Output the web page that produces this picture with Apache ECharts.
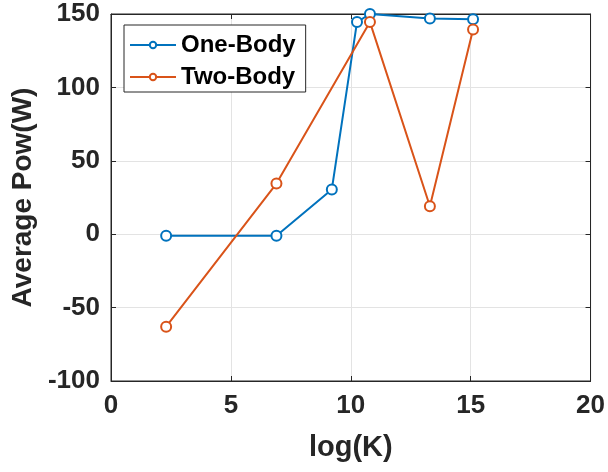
<!DOCTYPE html>
<html>
<head>
<meta charset="utf-8">
<script src="https://cdn.jsdelivr.net/npm/echarts@6/dist/echarts.min.js"></script>
<style>
html, body { margin: 0; padding: 0; background: #fff; }
#chart { width: 608px; height: 472px; }
</style>
</head>
<body>
<div id="chart"></div>
<script>
// 数据
var oneX = [2.3, 6.9, 9.21, 10.26, 10.8, 13.3, 15.1];
var oneY = [-1, -1, 30.5, 144.5, 150, 147, 146.5];
var twoX = [2.3, 6.9, 10.8, 13.3, 15.1];
var twoY = [-63, 34.5, 144.5, 19, 139.5];
var seriesNames = ['One-Body', 'Two-Body'];

function pairs(xs, ys) {
	var out = [];
	for (var i = 0; i < xs.length; i++) {
		out.push([xs[i], ys[i]]);
	}
	return out;
}

var font = '"Liberation Sans", Arial, sans-serif';
var dark = '#262626';

var myChart = echarts.init(document.getElementById('chart'));
var option = {
	animation: false,
	grid: {
		left: 111,
		top: 14,
		right: 16,
		bottom: 91,
		show: true,
		borderColor: dark,
		borderWidth: 1
	},
	legend: {
		orient: 'vertical',
		left: 124,
		top: 25,
		data: seriesNames,
		backgroundColor: '#fff',
		borderColor: dark,
		borderWidth: 1,
		borderRadius: 0,
		padding: [6, 10, 1, 5],
		itemGap: 4,
		itemWidth: 46,
		itemHeight: 8,
		textStyle: {
			fontFamily: font,
			fontWeight: 'bold',
			fontSize: 24,
			lineHeight: 28,
			color: '#000'
		}
	},
	xAxis: [
		{
			type: 'value',
			min: 0,
			max: 20,
			interval: 5,
			name: 'log(K)',
			nameLocation: 'middle',
			nameGap: 52,
			nameTextStyle: {
				fontFamily: font,
				fontWeight: 'bold',
				fontSize: 29,
				color: dark
			},
			axisLine: { show: true, onZero: false, lineStyle: { color: dark } },
			axisTick: { inside: true, length: 5, lineStyle: { color: dark } },
			axisLabel: {
				margin: 12,
				fontFamily: font,
				fontWeight: 'bold',
				fontSize: 26,
				color: dark
			},
			splitLine: { show: true, lineStyle: { color: '#e3e3e3', width: 1 } }
		},
		{
			type: 'value',
			position: 'top',
			min: 0,
			max: 20,
			interval: 5,
			axisLine: { show: true, onZero: false, lineStyle: { color: dark } },
			axisTick: { inside: true, length: 5, lineStyle: { color: dark } },
			axisLabel: { show: false },
			splitLine: { show: false }
		}
	],
	yAxis: [
		{
			type: 'value',
			min: -100,
			max: 150,
			interval: 50,
			name: 'Average Pow(W)',
			nameLocation: 'middle',
			nameGap: 72,
			nameTextStyle: {
				fontFamily: font,
				fontWeight: 'bold',
				fontSize: 28,
				color: dark
			},
			axisLine: { show: true, onZero: false, lineStyle: { color: dark } },
			axisTick: { inside: true, length: 5, lineStyle: { color: dark } },
			axisLabel: {
				margin: 11,
				fontFamily: font,
				fontWeight: 'bold',
				fontSize: 26,
				color: dark
			},
			splitLine: { show: true, lineStyle: { color: '#e3e3e3', width: 1 } }
		},
		{
			type: 'value',
			position: 'right',
			min: -100,
			max: 150,
			interval: 50,
			axisLine: { show: true, onZero: false, lineStyle: { color: dark } },
			axisTick: { inside: true, length: 5, lineStyle: { color: dark } },
			axisLabel: { show: false },
			splitLine: { show: false }
		}
	],
	series: [
		{
			name: seriesNames[0],
			type: 'line',
			data: pairs(oneX, oneY),
			symbol: 'emptyCircle',
			symbolSize: 10,
			clip: false,
			color: '#0072BD',
			lineStyle: { width: 2 },
			itemStyle: { borderWidth: 2 }
		},
		{
			name: seriesNames[1],
			type: 'line',
			data: pairs(twoX, twoY),
			symbol: 'emptyCircle',
			symbolSize: 10,
			clip: false,
			color: '#D95319',
			lineStyle: { width: 2 },
			itemStyle: { borderWidth: 2 }
		}
	]
};
myChart.setOption(option);
</script>
</body>
</html>
